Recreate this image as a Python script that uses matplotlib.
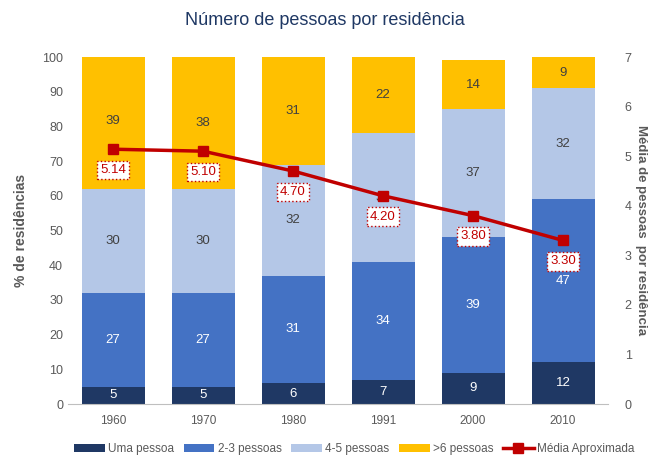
import matplotlib
matplotlib.use("Agg")
import matplotlib.pyplot as plt
import numpy as np

# Data
years = ["1960", "1970", "1980", "1991", "2000", "2010"]
uma = [5, 5, 6, 7, 9, 12]
duas_tres = [27, 27, 31, 34, 39, 47]
quatro_cinco = [30, 30, 32, 37, 37, 32]
mais_seis = [39, 38, 31, 22, 14, 9]
media = [5.14, 5.10, 4.70, 4.20, 3.80, 3.30]

# Colors
COL_UMA = "#1F3864"
COL_23 = "#4472C4"
COL_45 = "#B4C7E7"
COL_6 = "#FFC000"
COL_LINE = "#C00000"
COL_TEXT = "#595959"

plt.rcParams["font.family"] = ["Liberation Sans", "DejaVu Sans"]

fig = plt.figure(figsize=(6.5, 4.61), dpi=100)
ax = fig.add_axes([68 / 650, 1 - 404 / 461, 540 / 650, 347 / 461])
ax2 = ax.twinx()

x = np.arange(len(years))
width = 0.7
series = [
    ("Uma pessoa", uma, COL_UMA, "white"),
    ("2-3 pessoas", duas_tres, COL_23, "white"),
    ("4-5 pessoas", quatro_cinco, COL_45, "#404040"),
    (">6 pessoas", mais_seis, COL_6, "#404040"),
]
bottom = np.zeros(len(years))
handles = []
for name, vals, col, tcol in series:
    vals = np.array(vals, dtype=float)
    b = ax.bar(x, vals, width, bottom=bottom, color=col, label=name, zorder=2)
    handles.append(b)
    for xi, v, bo in zip(x, vals, bottom):
        ax.text(xi, bo + v / 2, f"{int(v)}", ha="center", va="center",
                color=tcol, fontsize=9.5, zorder=3)
    bottom += vals

ax.set_xlim(-0.5, 5.5)
ax.set_ylim(0, 100)
ax.set_yticks(np.arange(0, 101, 10))
ax.set_xticks(x)
ax.set_xticklabels(years)
ax.tick_params(axis="both", length=0, colors=COL_TEXT, labelsize=9)
ax.tick_params(axis="x", pad=8, labelsize=8.5)
for s in ["top", "left", "right"]:
    ax.spines[s].set_visible(False)
    ax2.spines[s].set_visible(False)
ax2.spines["bottom"].set_visible(False)
ax.spines["bottom"].set_color("#BFBFBF")
ax.set_ylabel("% de residências", color=COL_TEXT, fontsize=10, fontweight="bold", labelpad=10)

line, = ax2.plot(x, media, color=COL_LINE, lw=2.5, marker="s", markersize=7,
                 label="Média Aproximada", zorder=4)
for xi, v in zip(x, media):
    ax2.annotate(f"{v:.2f}", (xi, v), xytext=(0, -15), textcoords="offset points",
                 ha="center", va="center", color=COL_LINE, fontsize=9.5, zorder=5,
                 bbox=dict(boxstyle="square,pad=0.25", fc="white", ec=COL_LINE,
                           ls=":", lw=1))
ax2.set_ylim(0, 7)
ax2.set_yticks(np.arange(0, 8, 1))
ax2.tick_params(axis="y", length=0, colors=COL_TEXT, labelsize=9, pad=12)
fig.text(641 / 650, 0.5, "Média de pessoas  por residência", color=COL_TEXT,
         fontsize=9.5, fontweight="bold", rotation=270, ha="center", va="center")

fig.suptitle("Número de pessoas por residência", x=0.5, y=0.975, fontsize=13,
             color="#1F3864")

fig.legend(handles + [line], [h.get_label() for h in handles] + ["Média Aproximada"],
           loc="lower center", bbox_to_anchor=(0.545, -0.01), ncol=5, frameon=False,
           fontsize=8.5, labelcolor=COL_TEXT, handlelength=2.6, handleheight=0.6,
           columnspacing=0.8, handletextpad=0.3)

fig.savefig("out.png", dpi=100)
